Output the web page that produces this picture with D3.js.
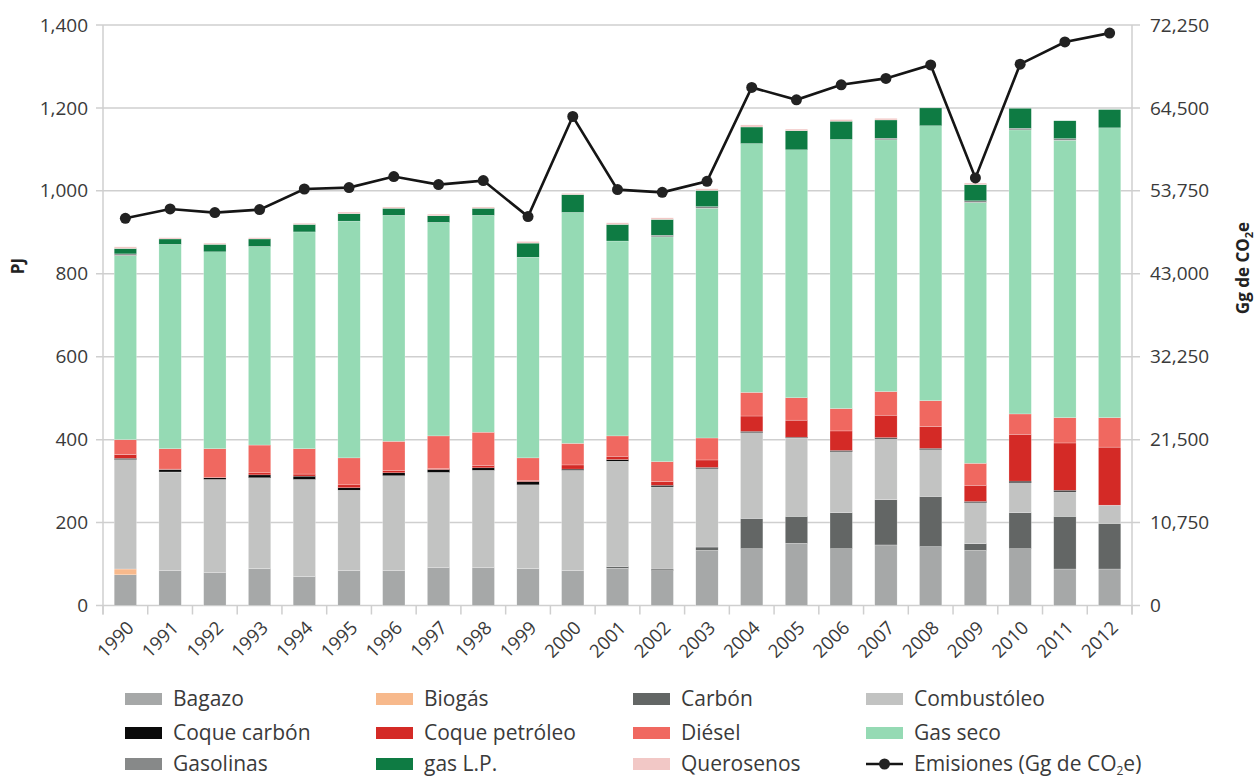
<!DOCTYPE html>
<html lang="es">
<head>
<meta charset="utf-8">
<script src="https://cdn.jsdelivr.net/npm/d3@7"></script>
<style>
  html, body { margin: 0; padding: 0; background: #fff; }
  svg { display: block; font-family: "Open Sans", "Noto Sans", sans-serif; }
</style>
</head>
<body>
<svg id="chart" width="1257" height="778"></svg>
<script>
// Consumo de combustibles (PJ) por año, apilado, y emisiones totales (Gg de CO2e)
const years = ["1990","1991","1992","1993","1994","1995","1996","1997","1998","1999","2000",
               "2001","2002","2003","2004","2005","2006","2007","2008","2009","2010","2011","2012"];

const bagazo        = [74,84,79,89,70,84,84,91,91,89,84,90,84,133,137,150,137,146,142,133,137,88,88];
const biogas        = [14,0,0,0,0,0,0,0,0,0,0,0,0,0,0,0,0,0,0,0,0,0,0];
const carbon        = [0,0,0,0,0,0,0,0,0,0,0,4,4,8,73,65,87,109,121,16,87,127,110];
const combustoleo   = [264,238,225,219,234,194,229,230,235,202,242,254,198,189,207,189,147,147,113,99,72,59,44];
const coqueCarbon   = [3,6,4,7,8,6,7,7,6,8,3,4,4,3,3,2,3,3,3,3,4,4,0];
const coquePetroleo = [9,1,1,5,5,7,5,2,6,3,10,8,9,18,37,41,47,54,53,39,113,114,140];
const diesel        = [36,49,69,67,61,65,71,79,80,54,52,49,48,53,57,54,54,57,62,53,49,61,71];
const gasSeco       = [444,493,475,479,523,571,545,515,523,484,557,470,542,554,600,598,649,607,663,629,685,669,699];
const gasolinas     = [4,0,0,0,0,0,0,0,0,0,0,0,4,4,0,0,0,4,0,4,4,4,0];
const gasLP         = [13,13,18,18,18,18,17,16,17,34,43,40,38,39,40,46,44,44,43,39,48,43,44];
const querosenos    = [4,3,3,3,3,4,3,4,3,4,3,4,4,4,5,4,4,4,0,4,0,0,0];

const emisiones     = [50190,51400,50930,51320,53990,54170,55600,54560,55080,50410,63390,
                       53910,53560,54990,67160,65550,67500,68330,70070,55420,70170,73050,74200];

const leftTicks = [0,200,400,600,800,1000,1200,1400];
const rightTicks = [0,10750,21500,32250,43000,53750,64500,75250];
const rightTickLabels = ["0","10,750","21,500","32,250","43,000","53,750","64,500","72,250"];

const seriesNames  = ["Bagazo","Biogás","Carbón","Combustóleo","Coque carbón","Coque petróleo",
                      "Diésel","Gas seco","Gasolinas","gas L.P.","Querosenos"];
const seriesValues = [bagazo,biogas,carbon,combustoleo,coqueCarbon,coquePetroleo,
                      diesel,gasSeco,gasolinas,gasLP,querosenos];
const seriesColors = ["#a6a8a8","#f7b98c","#636665","#c2c3c2","#0a0a0a","#d42a26",
                      "#f06860","#95dab4","#878989","#0e7b43","#f2c8c6"];

// table for d3.stack
const rows = years.map((yr, i) => {
  const r = { year: yr };
  seriesNames.forEach((n, k) => { r[n] = seriesValues[k][i]; });
  return r;
});

const svg = d3.select("#chart");
const plot = { left: 103, right: 1132, top: 25, bottom: 605.5 };

const x = d3.scaleBand().domain(years).range([plot.left, plot.right])
  .paddingInner(0.5).paddingOuter(0.25);
const y = d3.scaleLinear().domain([0, 1400]).range([plot.bottom, plot.top]);
const yR = d3.scaleLinear().domain([0, 75250]).range([plot.bottom, plot.top]);

const gridColor = "#cfcfcf";
const textColor = "#3a3a3a";

// horizontal gridlines (extend past both axes as tick marks)
svg.append("g").selectAll("line").data(leftTicks).join("line")
  .attr("x1", plot.left - 7).attr("x2", plot.right + 8)
  .attr("y1", d => y(d)).attr("y2", d => y(d))
  .attr("stroke", gridColor).attr("stroke-width", 1.5);

// vertical axis lines
[plot.left, plot.right].forEach(xx => {
  svg.append("line").attr("x1", xx).attr("x2", xx)
    .attr("y1", y(1400)).attr("y2", plot.bottom + 9)
    .attr("stroke", gridColor).attr("stroke-width", 1.5);
});

// category boundary ticks
const step = x.step();
const bounds = d3.range(years.length + 1).map(i => x(years[0]) - x.paddingOuter() * step + i * step);
svg.append("g").selectAll("line").data(bounds).join("line")
  .attr("x1", d => d).attr("x2", d => d)
  .attr("y1", plot.bottom).attr("y2", plot.bottom + 9)
  .attr("stroke", gridColor).attr("stroke-width", 1.5);

// stacked bars
const stack = d3.stack().keys(seriesNames);
const layers = stack(rows);
svg.append("g").selectAll("g").data(layers).join("g")
  .attr("fill", (d, i) => seriesColors[i])
  .selectAll("rect").data(d => d).join("rect")
    .attr("x", d => x(d.data.year))
    .attr("width", x.bandwidth())
    .attr("y", d => y(d[1]))
    .attr("height", d => Math.max(0, y(d[0]) - y(d[1])))
    .attr("stroke", "#ffffff").attr("stroke-width", 0.4).attr("stroke-opacity", 0.6);

// emissions line
const cx = d => x(d) + x.bandwidth() / 2;
const line = d3.line().x((d, i) => cx(years[i])).y(d => yR(d));
svg.append("path").datum(emisiones)
  .attr("d", line).attr("fill", "none")
  .attr("stroke", "#151515").attr("stroke-width", 2.6).attr("stroke-linejoin", "miter");
svg.append("g").selectAll("circle").data(emisiones).join("circle")
  .attr("cx", (d, i) => cx(years[i])).attr("cy", d => yR(d))
  .attr("r", 5.5).attr("fill", "#222222");

// left axis
const axL = svg.append("g").attr("transform", `translate(${plot.left},0)`)
  .call(d3.axisLeft(y).tickValues(leftTicks).tickFormat(d3.format(",")).tickSize(0).tickPadding(15));
axL.select(".domain").remove();
axL.selectAll("text").attr("font-size", 19).attr("fill", textColor)
  .attr("font-family", "'Open Sans', sans-serif");

// right axis
const axR = svg.append("g").attr("transform", `translate(${plot.right},0)`)
  .call(d3.axisRight(yR).tickValues(rightTicks).tickFormat((d, i) => rightTickLabels[i])
    .tickSize(0).tickPadding(18));
axR.select(".domain").remove();
axR.selectAll("text").attr("font-size", 19).attr("fill", textColor)
  .attr("font-family", "'Open Sans', sans-serif");

// bottom axis, rotated year labels
const axB = svg.append("g").attr("transform", `translate(0,${plot.bottom})`)
  .call(d3.axisBottom(x).tickSize(0));
axB.select(".domain").remove();
axB.selectAll("text")
  .attr("font-size", 18.5).attr("fill", textColor)
  .attr("font-family", "'Open Sans', sans-serif")
  .attr("text-anchor", "end")
  .attr("x", 0).attr("y", 0).attr("dy", "0.35em")
  .attr("transform", "translate(5,19) rotate(-45)");

// axis titles
svg.append("text")
  .attr("transform", "translate(24,266) rotate(-90)")
  .attr("text-anchor", "middle").attr("font-size", 17).attr("font-weight", 700)
  .attr("fill", "#222").text("PJ");

const rt = svg.append("text")
  .attr("transform", "translate(1249,268) rotate(-90)")
  .attr("text-anchor", "middle").attr("font-size", 17).attr("font-weight", 700)
  .attr("fill", "#222");
rt.append("tspan").text("Gg de CO");
rt.append("tspan").attr("font-size", 11).attr("dy", 4).text("2");
rt.append("tspan").attr("dy", -4).text("e");

// legend
const colSwatch = [125, 376, 633, 866];
const rowY = [699, 733, 764];
const legendItems = seriesNames.map((n, i) => ({ name: n, color: seriesColors[i], type: "bar" }));
legendItems.push({ name: "Emisiones", type: "line" });

const leg = svg.append("g");
legendItems.forEach((it, i) => {
  const c = i % 4, r = Math.floor(i / 4);
  const sx = colSwatch[c], sy = rowY[r];
  const g = leg.append("g");
  if (it.type === "bar") {
    g.append("rect").attr("x", sx).attr("y", sy - 6).attr("width", 37).attr("height", 12)
      .attr("fill", it.color);
  } else {
    g.append("line").attr("x1", sx).attr("x2", sx + 37).attr("y1", sy).attr("y2", sy)
      .attr("stroke", "#151515").attr("stroke-width", 2.6);
    g.append("circle").attr("cx", sx + 18.5).attr("cy", sy).attr("r", 5.5).attr("fill", "#222");
  }
  const t = g.append("text").attr("x", sx + 48).attr("y", sy).attr("dy", "0.35em")
    .attr("font-size", 21).attr("fill", textColor);
  if (it.type === "bar") {
    t.text(it.name);
  } else {
    t.append("tspan").text("Emisiones (Gg de CO");
    t.append("tspan").attr("font-size", 12).attr("dy", 4).text("2");
    t.append("tspan").attr("dy", -4).text("e)");
  }
});
</script>
</body>
</html>
